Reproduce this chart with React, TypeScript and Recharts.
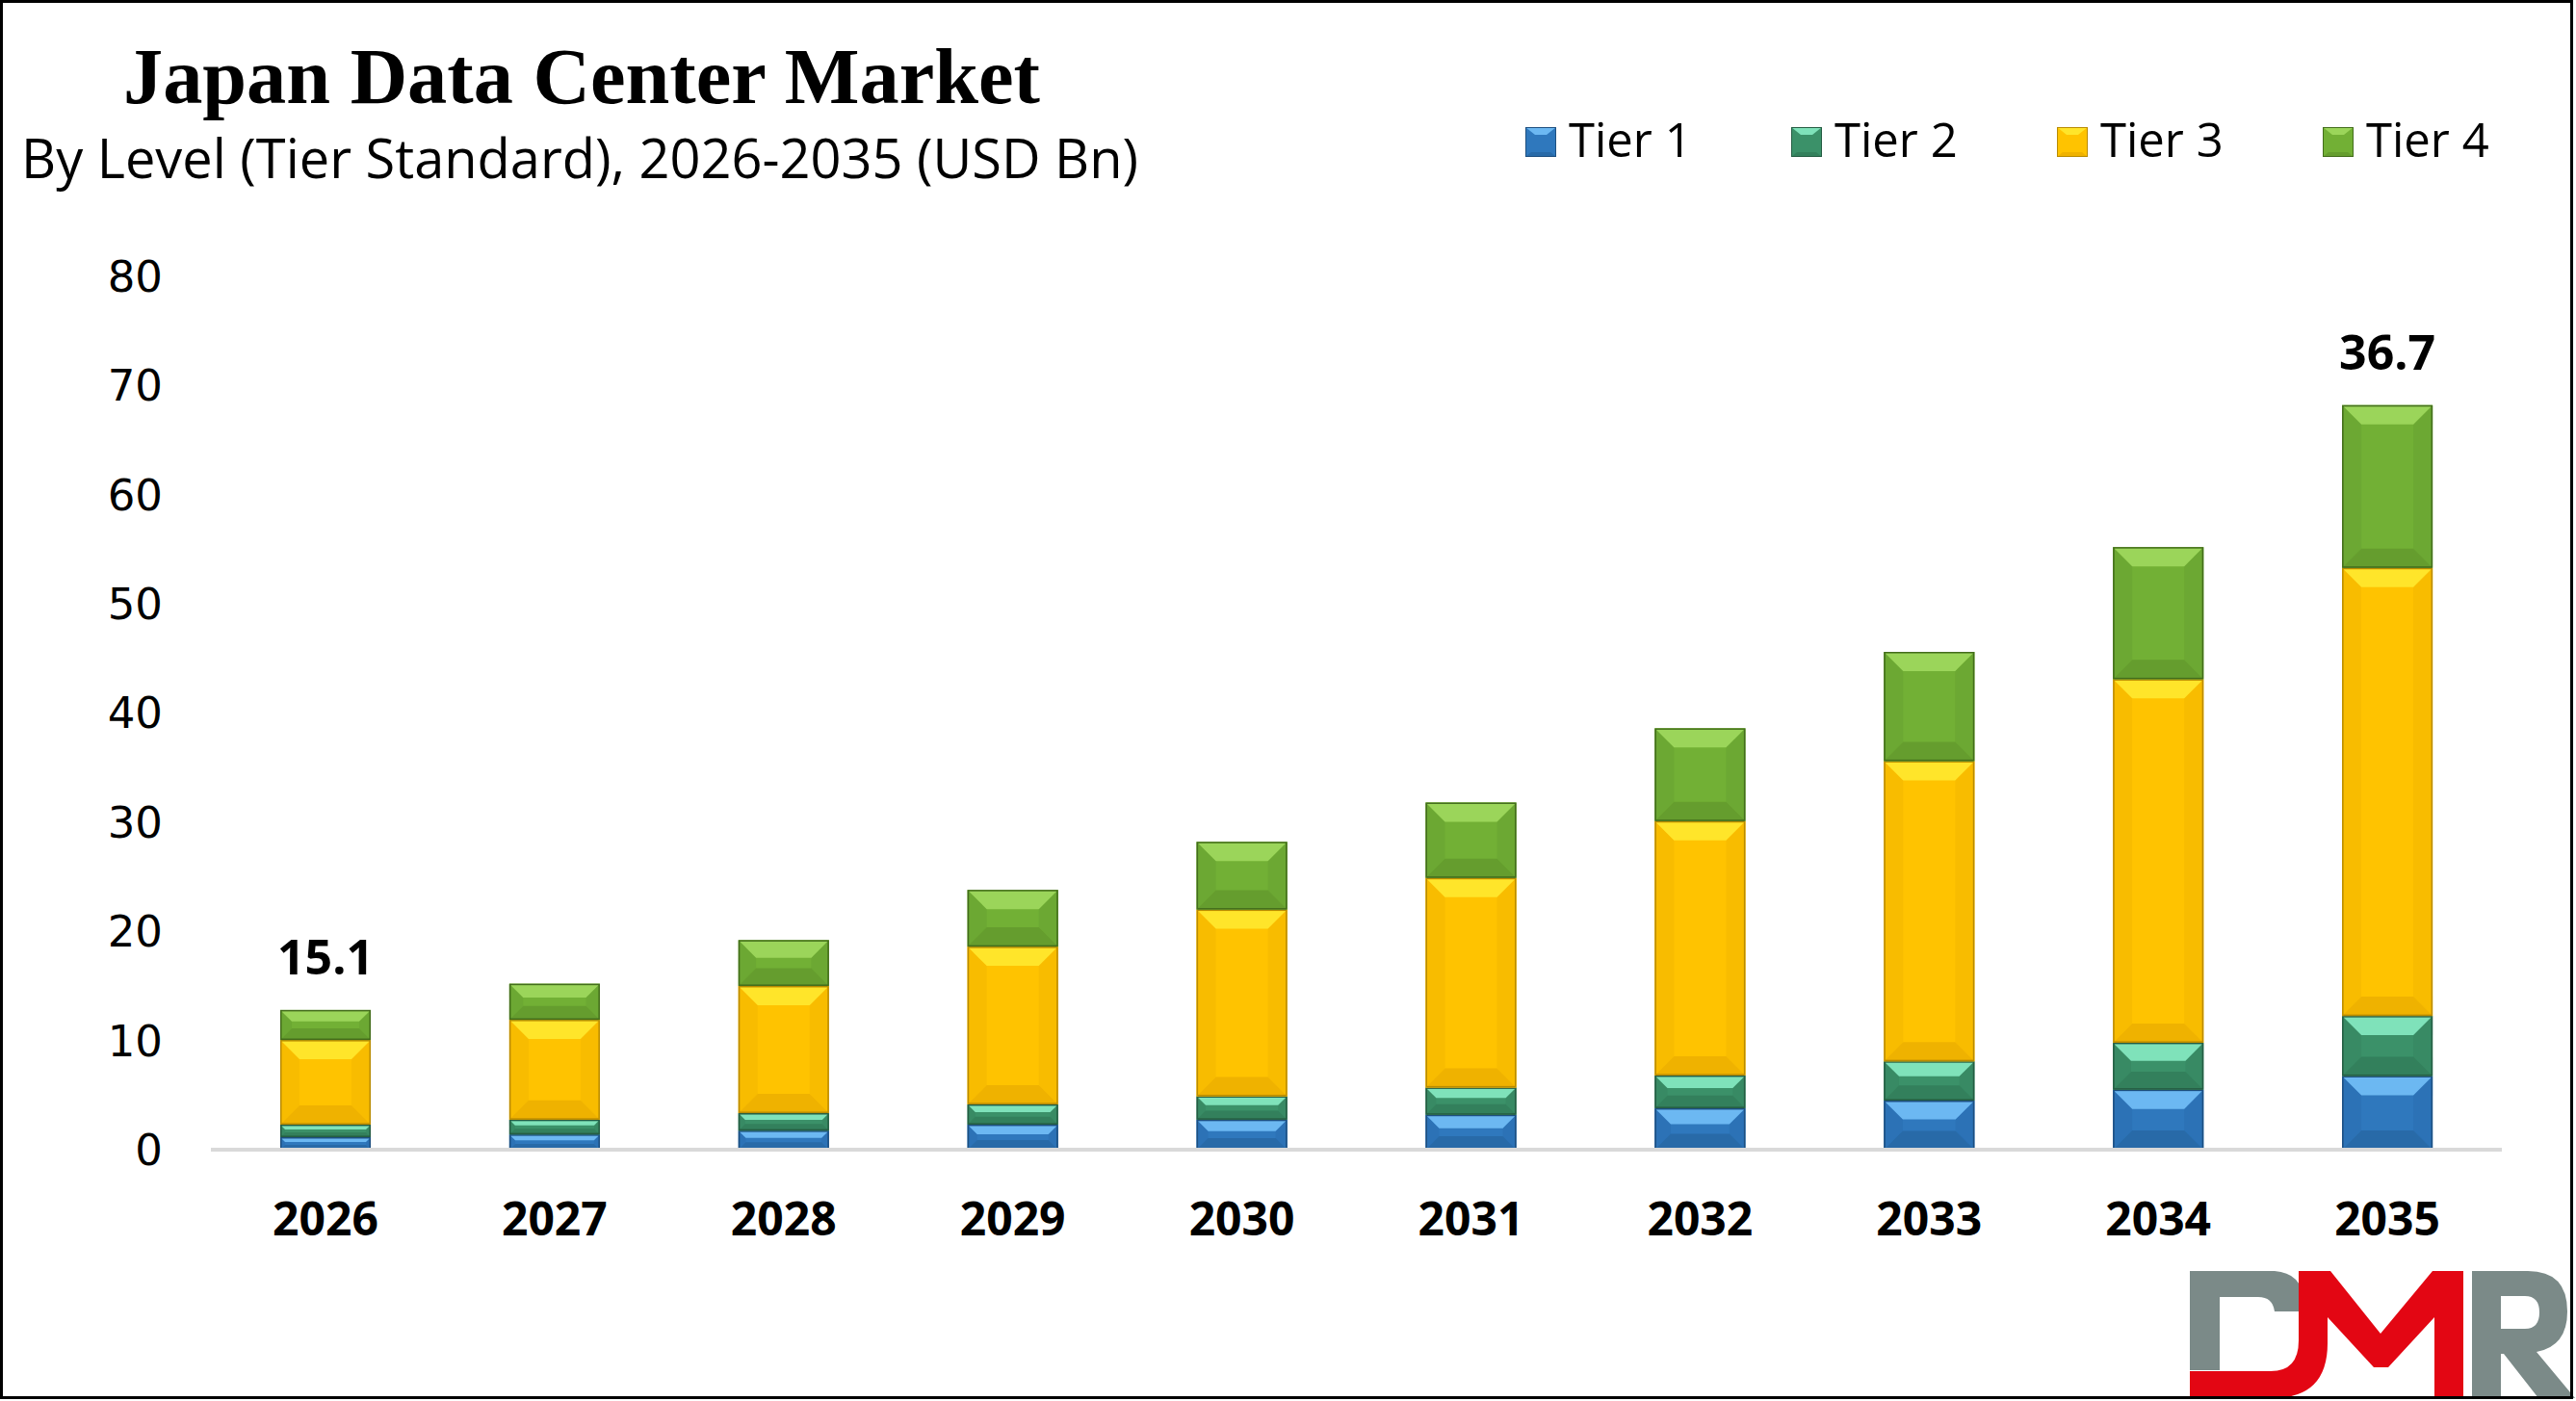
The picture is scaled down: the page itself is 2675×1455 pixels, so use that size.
import React from "react";
import { BarChart, Bar, XAxis, YAxis, Legend, LabelList } from "recharts";

const years = ["2026", "2027", "2028", "2029", "2030", "2031", "2032", "2033", "2034", "2035"];
const tier1 = [1.15, 1.4, 1.75, 2.3, 2.75, 3.2, 3.8, 4.5, 5.5, 6.75];
const tier2 = [1.15, 1.35, 1.6, 1.85, 2.15, 2.5, 3.0, 3.6, 4.3, 5.5];
const tier3 = [7.75, 9.15, 11.65, 14.45, 17.1, 19.2, 23.3, 27.5, 33.3, 41.05];
const tier4 = [2.75, 3.3, 4.2, 5.2, 6.2, 6.9, 8.5, 10.0, 12.1, 14.9];
const totalLabels = ["15.1", "", "", "", "", "", "", "", "", "36.7"];
const yTicks = [0, 10, 20, 30, 40, 50, 60, 70, 80];
const tierNames = ["Tier 1", "Tier 2", "Tier 3", "Tier 4"];

const data = years.map((year, i) => ({
  year,
  t1: tier1[i],
  t2: tier2[i],
  t3: tier3[i],
  t4: tier4[i],
  label: totalLabels[i],
}));

const palettes = [
  { base: "#2f78bd", light: "#6cb8f2", side: "#2c72b6", dark: "#286aa8", edge: "#1d4f80" },
  { base: "#3b9169", light: "#7fe2ba", side: "#388a64", dark: "#33805c", edge: "#255d43" },
  { base: "#ffc300", light: "#ffe52a", side: "#f8bc00", dark: "#efb200", edge: "#b98b00" },
  { base: "#72b035", light: "#9bd55a", side: "#6ca833", dark: "#659d2e", edge: "#436d1c" },
];

function BevelBar(props: any) {
  const { x, y, width, height, pal } = props;
  if (!height || height <= 0) return null;
  const b = Math.min(20, height / 2.6, width / 4);
  const x2 = x + width;
  const y2 = y + height;
  return (
    <g>
      <rect x={x} y={y} width={width} height={height} fill={pal.base} />
      <polygon points={`${x},${y} ${x + b},${y + b} ${x + b},${y2 - b} ${x},${y2}`} fill={pal.side} />
      <polygon points={`${x2},${y} ${x2 - b},${y + b} ${x2 - b},${y2 - b} ${x2},${y2}`} fill={pal.side} />
      <polygon points={`${x},${y2} ${x2},${y2} ${x2 - b},${y2 - b} ${x + b},${y2 - b}`} fill={pal.dark} />
      <polygon points={`${x},${y} ${x2},${y} ${x2 - b},${y + b} ${x + b},${y + b}`} fill={pal.light} />
      <rect x={x + 0.75} y={y + 0.75} width={width - 1.5} height={height - 1.5} fill="none" stroke={pal.edge} strokeWidth={1.5} />
    </g>
  );
}

function TotalLabel(props: any) {
  const { x, y, width, value } = props;
  if (!value) return null;
  return (
    <text
      x={x + width / 2}
      y={y - 37}
      textAnchor="middle"
      fontFamily="Open Sans"
      fontWeight={700}
      fontSize={50}
      fill="#000"
    >
      {value}
    </text>
  );
}

function LegendContent() {
  return (
    <svg width={1100} height={90} style={{ overflow: "visible", display: "block" }}>
      {tierNames.map((name, i) => {
        const pal = palettes[i];
        const mx = i * 276;
        return (
          <g key={name}>
            <rect x={mx} y={32} width={32} height={31} fill={pal.base} />
            <polygon points={`${mx},32 ${mx + 32},32 ${mx + 22},40 ${mx + 10},40`} fill={pal.light} />
            <polygon points={`${mx},63 ${mx + 32},63 ${mx + 26},58 ${mx + 6},58`} fill={pal.dark} />
            <rect x={mx + 0.5} y={32.5} width={31} height={30} fill="none" stroke={pal.edge} strokeWidth={1} />
            <text x={mx + 45} y={63} fontFamily="Open Sans" fontSize={49} fill="#000">
              {name}
            </text>
          </g>
        );
      })}
    </svg>
  );
}

function Logo() {
  return (
    <g>
      <path d="M2274 1320 H2362 Q2390 1322 2392 1350 V1362 H2362 Q2360 1347 2345 1347 H2305 V1423 H2274 Z" fill="#7b8a88" />
      <path
        d="M2274 1424 H2358 Q2387 1424 2387 1392 V1320 H2420 L2472 1385 L2526 1320 H2558 V1452 H2528 V1368 L2480 1420 H2465 L2417 1368 V1395 Q2417 1452 2360 1452 H2274 Z"
        fill="#e30613"
      />
      <path
        fillRule="evenodd"
        d="M2567 1320 H2625 Q2666 1320 2666 1362 Q2666 1398 2634 1404 L2674 1452 H2636 L2600 1406 H2597 V1452 H2567 Z M2597 1346 V1380 H2622 Q2637 1380 2637 1363 Q2637 1346 2622 1346 Z"
        fill="#7b8a88"
      />
    </g>
  );
}

export default function App() {
  return (
    <div style={{ position: "relative", width: 2675, height: 1455, background: "#fff" }}>
      <style>{"body{margin:0;}"}</style>
      <BarChart
        width={2675}
        height={1455}
        data={data}
        margin={{ top: 287, right: 77, left: 69, bottom: 161 }}
      >
        <XAxis
          dataKey="year"
          height={100}
          axisLine={{ stroke: "#d9d9d9", strokeWidth: 4 }}
          tickLine={false}
          tickSize={0}
          tickMargin={55}
          tick={{ fill: "#000", fontSize: 48, fontWeight: 700, fontFamily: "Open Sans" }}
        />
        <YAxis
          width={150}
          domain={[0, 80]}
          ticks={yTicks}
          axisLine={false}
          tickLine={false}
          tickSize={0}
          tickMargin={50}
          tick={{ fill: "#000", fontSize: 45, fontFamily: "DejaVu Sans" }}
        />
        <Legend
          layout="horizontal"
          align="center"
          verticalAlign="middle"
          content={LegendContent}
          wrapperStyle={{ left: 1584, top: 100, width: 1100, height: 90 }}
        />
        <Bar dataKey="t1" name="Tier 1" stackId="a" barSize={94} fill={palettes[0].base} isAnimationActive={false} shape={(p: any) => <BevelBar {...p} pal={palettes[0]} />} />
        <Bar dataKey="t2" name="Tier 2" stackId="a" barSize={94} fill={palettes[1].base} isAnimationActive={false} shape={(p: any) => <BevelBar {...p} pal={palettes[1]} />} />
        <Bar dataKey="t3" name="Tier 3" stackId="a" barSize={94} fill={palettes[2].base} isAnimationActive={false} shape={(p: any) => <BevelBar {...p} pal={palettes[2]} />} />
        <Bar dataKey="t4" name="Tier 4" stackId="a" barSize={94} fill={palettes[3].base} isAnimationActive={false} shape={(p: any) => <BevelBar {...p} pal={palettes[3]} />}>
          <LabelList dataKey="label" content={TotalLabel} />
        </Bar>
      </BarChart>
      <svg
        width={2675}
        height={1455}
        style={{ position: "absolute", left: 0, top: 0, pointerEvents: "none" }}
      >
        <text
          x={128}
          y={107}
          fontFamily="Liberation Serif"
          fontWeight={700}
          fontSize={82}
          textLength={952}
          lengthAdjust="spacingAndGlyphs"
          fill="#000"
        >
          Japan Data Center Market
        </text>
        <text
          x={22}
          y={185}
          fontFamily="Open Sans"
          fontSize={56}
          textLength={1160}
          lengthAdjust="spacingAndGlyphs"
          fill="#000"
        >
          By Level (Tier Standard), 2026-2035 (USD Bn)
        </text>
        <Logo />
        <rect x={1.5} y={1.5} width={2669} height={1450} fill="none" stroke="#000" strokeWidth={3} />
      </svg>
    </div>
  );
}
